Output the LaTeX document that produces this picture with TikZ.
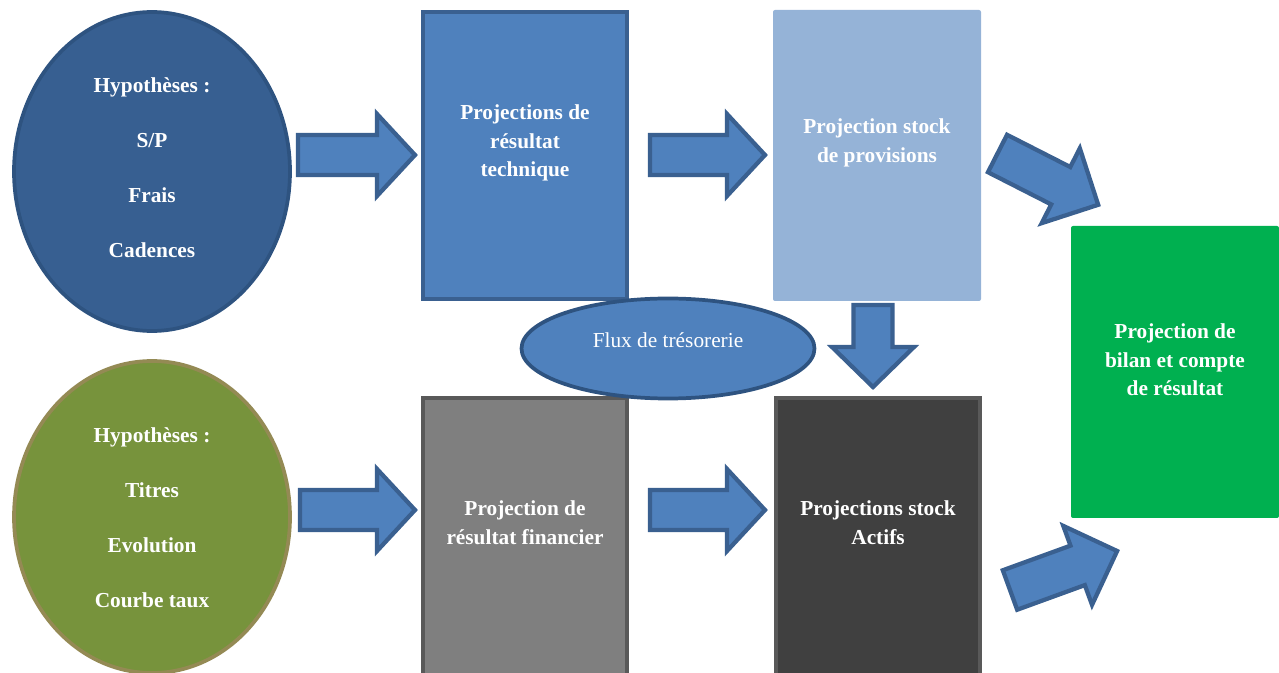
\documentclass[tikz,border=0pt]{standalone}
\usepackage{fontspec}
\setmainfont{Liberation Serif}
\usetikzlibrary{shapes.geometric}

\definecolor{hypblue}{HTML}{375F91}
\definecolor{hypblueline}{HTML}{2E5380}
\definecolor{hypgreen}{HTML}{77933C}
\definecolor{hypgreenline}{HTML}{948A54}
\definecolor{techblue}{HTML}{4F81BD}
\definecolor{techline}{HTML}{3A6090}
\definecolor{provblue}{HTML}{95B3D7}
\definecolor{fingray}{HTML}{7F7F7F}
\definecolor{darkgray}{HTML}{404040}
\definecolor{grayline}{HTML}{595959}
\definecolor{bilangreen}{HTML}{00B050}

\tikzset{
  hyp/.style={ellipse, line width=2.8pt, inner sep=0pt},
  panel/.style={rectangle, inner sep=0pt, line width=3pt},
  flat/.style={rectangle, rounded corners=1.5pt, inner sep=0pt},
  boldtext/.style={text=white, font=\bfseries\fontsize{16}{21.5}\selectfont, align=center, inner sep=0pt},
  hyptext/.style={text=white, font=\bfseries\fontsize{16}{41.25}\selectfont, align=center, inner sep=0pt},
  blockarrow/.style={fill=techblue, draw=techline, line width=3.2pt, line join=miter},
}

% block arrow: start point, angle, length, shaft half width, head half width, head length
\newcommand\blockarrow[6]{%
  \draw[blockarrow, shift={(#1)}, rotate=#2]
    (0,-#4) -- (#3-#6,-#4) -- (#3-#6,-#5) -- (#3,0) -- (#3-#6,#5) -- (#3-#6,#4) -- (0,#4) -- cycle;}

\begin{document}
\begin{tikzpicture}[x=0.75pt, y=-0.75pt]
\useasboundingbox (0,0) rectangle (1279,673);
\clip (0,0) rectangle (1279,673);

% hypothesis ellipses
\node[hyp, fill=hypblue, draw=hypblueline, minimum width={276*0.75pt}, minimum height={319*0.75pt}] (hypA) at (152,171.5) {};
\node[hyptext] (hypAtxt) at (152,168) {Hypothèses :\\S/P\\Frais\\Cadences};

\node[hyp, fill=hypgreen, draw=hypgreenline, minimum width={276*0.75pt}, minimum height={312*0.75pt}] (hypB) at (152,517) {};
\node[hyptext] (hypBtxt) at (152,518) {Hypothèses :\\Titres\\Evolution\\Courbe taux};

% projection panels
\node[panel, fill=techblue, draw=techline, minimum width={204*0.75pt}, minimum height={287*0.75pt}] (tech) at (525,155.5) {};
\node[boldtext] at (525,143) {Projections de\\résultat\\technique};

\node[flat, fill=provblue, minimum width={208*0.75pt}, minimum height={291*0.75pt}] (prov) at (877,155.5) {};
\node[boldtext] at (877,143) {Projection stock\\de provisions};

\node[panel, fill=fingray, draw=grayline, minimum width={204*0.75pt}, minimum height={300*0.75pt}] (fin) at (525,548) {};
\node[boldtext] at (525,523) {Projection de\\résultat financier};

\node[panel, fill=darkgray, draw=grayline, minimum width={204*0.75pt}, minimum height={300*0.75pt}] (act) at (878,548) {};
\node[boldtext] at (878,523) {Projections stock\\Actifs};

\node[flat, fill=bilangreen, minimum width={208*0.75pt}, minimum height={292*0.75pt}] (bilan) at (1175,372) {};
\node[boldtext] at (1175,360) {Projection de\\bilan et compte\\de résultat};

% cash flow ellipse
\node[hyp, fill=techblue, draw=hypblueline, minimum width={293*0.75pt}, minimum height={100*0.75pt}] (flux) at (668,348.5) {};
\node[text=white, font=\fontsize{16}{19}\selectfont, inner sep=0pt] at (668,340) {Flux de trésorerie};

% block arrows
\blockarrow{298,155}{0}{117}{20}{41}{38}
\blockarrow{650,155}{0}{115}{20}{41}{38}
\blockarrow{300,510}{0}{115}{20}{41}{38}
\blockarrow{650,510}{0}{115}{20}{41}{38}
\blockarrow{873,305}{-90}{82}{19.5}{41}{40}
\blockarrow{997.5,153.5}{-27}{113}{21}{42}{42}
\blockarrow{1010,590}{20}{114}{21}{42}{42}
\end{tikzpicture}
\end{document}
